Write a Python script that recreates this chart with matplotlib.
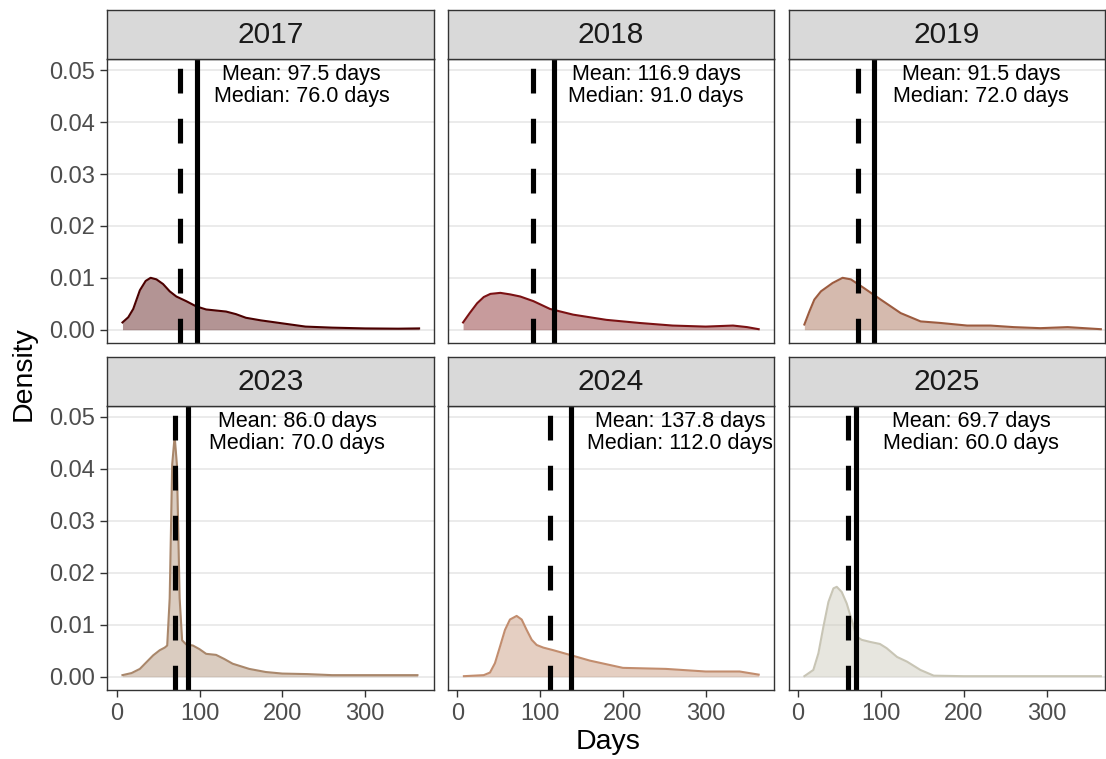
import matplotlib
matplotlib.use("Agg")
import matplotlib.pyplot as plt

plt.rcParams["font.family"] = ["Liberation Sans", "DejaVu Sans"]
plt.rcParams["lines.scale_dashes"] = False

# --- data ---
years = ["2017", "2018", "2019", "2023", "2024", "2025"]
means = [97.5, 116.9, 91.5, 86.0, 137.8, 69.7]
medians = [76.0, 91.0, 72.0, 70.0, 112.0, 60.0]

days_2017 = [7, 14, 20, 28, 35, 41, 48, 56, 64, 72, 84, 96, 108, 120, 132, 144, 156, 174, 192, 210, 228, 260, 300, 340, 365]
dens_2017 = [0.0014, 0.0024, 0.0040, 0.0076, 0.0094, 0.0100, 0.0097, 0.0088, 0.0074, 0.0064, 0.0055, 0.0045, 0.0039,
             0.0037, 0.0035, 0.0030, 0.0023, 0.0018, 0.0014, 0.0010, 0.0006, 0.0004, 0.00025, 0.0002, 0.00025]

days_2018 = [7, 15, 24, 32, 40, 52, 64, 76, 92, 112, 140, 180, 220, 260, 300, 333, 350, 364]
dens_2018 = [0.0014, 0.0032, 0.0051, 0.0063, 0.0069, 0.0071, 0.0068, 0.0064, 0.0055, 0.0040, 0.0029, 0.0019,
             0.0013, 0.0008, 0.0006, 0.0008, 0.0005, 0.0001]

days_2019 = [8, 14, 20, 28, 42, 54, 64, 80, 100, 124, 148, 172, 204, 232, 260, 292, 325, 365]
dens_2019 = [0.0010, 0.0035, 0.0058, 0.0074, 0.0090, 0.0100, 0.0097, 0.0080, 0.0058, 0.0032, 0.0016, 0.0013,
             0.0008, 0.0008, 0.0005, 0.0003, 0.0005, 0.0001]

days_2023 = [7, 18, 28, 36, 44, 52, 58, 61, 64, 67, 70, 72.7, 76, 79, 84, 92, 100, 108, 120, 130, 140, 160, 180,
             200, 230, 260, 290, 321, 363]
dens_2023 = [0.0003, 0.0007, 0.0015, 0.0028, 0.0041, 0.0051, 0.0056, 0.0060, 0.0151, 0.0408, 0.0463, 0.0408,
             0.0151, 0.0070, 0.0062, 0.0060, 0.0053, 0.0044, 0.0042, 0.0034, 0.0025, 0.0015, 0.0009, 0.0006,
             0.0005, 0.0003, 0.0003, 0.0003, 0.0003]

days_2024 = [8, 32, 39.5, 45.5, 51.6, 57.6, 63.6, 71.7, 77.8, 83.8, 89.9, 95.9, 103.9, 116, 136, 160, 200, 252,
             300, 341, 364]
dens_2024 = [0.0001, 0.0003, 0.0008, 0.0026, 0.0058, 0.0090, 0.0110, 0.0117, 0.0110, 0.0090, 0.0071, 0.0061,
             0.0056, 0.0051, 0.0042, 0.0031, 0.0017, 0.0015, 0.0010, 0.0010, 0.0004]

days_2025 = [8, 18.8, 24.9, 30.9, 37, 43, 47, 53, 59, 65, 71, 77, 87, 99, 107, 119.6, 131.6, 147.7, 163.8, 200, 365]
dens_2025 = [0.0001, 0.0013, 0.0045, 0.0096, 0.0144, 0.0170, 0.0173, 0.0163, 0.0141, 0.0109, 0.0077, 0.0071,
             0.0067, 0.0063, 0.0055, 0.0038, 0.0029, 0.0013, 0.0002, 0.0001, 0.0001]

all_days = [days_2017, days_2018, days_2019, days_2023, days_2024, days_2025]
all_dens = [dens_2017, dens_2018, dens_2019, dens_2023, dens_2024, dens_2025]

line_colors = ["#4B0000", "#7B1113", "#9C5B3F", "#A9876B", "#C28D6E", "#C8C5B5"]
x_ticks = [0, 100, 200, 300]
y_ticks = [0.00, 0.01, 0.02, 0.03, 0.04, 0.05]
y_tick_labels = ["0.00", "0.01", "0.02", "0.03", "0.04", "0.05"]

# annotation centre (days) per panel
label_x = [223, 240, 221, 218, 269, 209]

# --- layout in pixels ---
W, H = 1106, 759
fig = plt.figure(figsize=(W / 100, H / 100), dpi=100)


def rect(x0, y0, x1, y1):
    return [x0 / W, 1 - y1 / H, (x1 - x0) / W, (y1 - y0) / H]


cols = [(107.3, 434), (448, 774), (789, 1105)]
rows = [(10, 59.3, 343), (357, 406, 690)]
xlims = [(-11.3, 383), (-11.2, 382.5), (-10.5, 370)]
border = "#333333"

for i, year in enumerate(years):
    r, c = divmod(i, 3)
    x0, x1 = cols[c]
    s0, p0, p1 = rows[r]

    ax = fig.add_axes(rect(x0, p0, x1, p1))
    ax.fill_between(all_days[i], all_dens[i], 0, color=line_colors[i], alpha=0.42, lw=0)
    ax.plot(all_days[i], all_dens[i], color=line_colors[i], lw=1.5, solid_joinstyle="round")
    ax.axvline(means[i], color="black", lw=3.7, solid_capstyle="butt")
    ax.axvline(medians[i], color="black", lw=3.7, dashes=(17.8, 18.2), dash_capstyle="butt")
    ax.text(label_x[i], 0.047, f"Mean: {means[i]:.1f} days\nMedian: {medians[i]:.1f} days",
            ha="center", va="center", multialignment="center", fontsize=15.5,
            linespacing=1.05, clip_on=True)

    ax.set_xlim(*xlims[c])
    ax.set_ylim(-0.00256, 0.0521)
    ax.set_yticks(y_ticks)
    ax.set_xticks(x_ticks)
    ax.grid(axis="y", color="#EBEBEB", lw=1.4)
    ax.set_axisbelow(True)
    for sp in ax.spines.values():
        sp.set_color(border)
        sp.set_linewidth(1.0)
    ax.tick_params(length=5, width=1.0, color=border, labelcolor="#4D4D4D", labelsize=17, pad=4)
    if c == 0:
        ax.set_yticklabels(y_tick_labels)
    else:
        ax.tick_params(axis="y", left=False, labelleft=False)
    if r == 1:
        ax.set_xticklabels([str(t) for t in x_ticks])
    else:
        ax.tick_params(axis="x", bottom=False, labelbottom=False)

    sax = fig.add_axes(rect(x0, s0, x1, p0))
    sax.set_facecolor("#D9D9D9")
    sax.set_xticks([])
    sax.set_yticks([])
    for sp in sax.spines.values():
        sp.set_color(border)
        sp.set_linewidth(1.0)
    sax.text(0.5, 0.5, year, transform=sax.transAxes, ha="center", va="center",
             fontsize=21.5, color="#1A1A1A")

fig.text(24 / W, 1 - 374 / H, "Density", rotation=90, ha="center", va="center", fontsize=20.5)
fig.text(608 / W, 1 - 742 / H, "Days", ha="center", va="center", fontsize=20.5)

fig.savefig("out.png", dpi=100)
